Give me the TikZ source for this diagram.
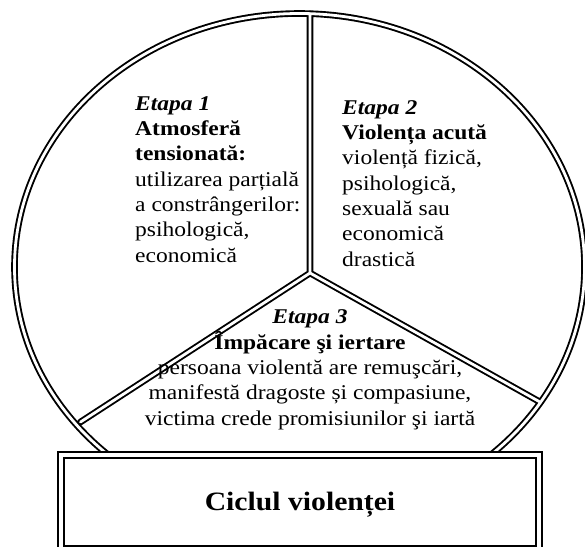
\documentclass[tikz,border=0pt]{standalone}
\usepackage{fontspec}
\setmainfont{Liberation Serif}[FakeStretch=1.12]

\begin{document}
\begin{tikzpicture}[
    x=1pt, y=-1pt,
    ring/.style={double, draw=black, line width=1.9pt, double distance=2.8pt,
        line cap=round},
    frame/.style={double, draw=black, fill=white, line width=2pt,
        double distance=3.6pt, minimum width=478pt, minimum height=94pt,
        inner sep=0pt},
    stage/.style={inner sep=0pt, align=left,
        font=\fontsize{21}{25.3}\selectfont},
    title/.style={inner sep=0pt, font=\fontsize{26.5}{30}\selectfont\bfseries}
]
    \useasboundingbox (0,0) rectangle (585,546);
    \coordinate (c) at (299.5,267);
    \coordinate (hub) at (310,273);
    \coordinate (top) at (310,13.5);
    \coordinate (lend) at (80.5,422);
    \coordinate (rend) at (540,402);
    \draw[ring] (c) ellipse [x radius=285, y radius=253.5]
        (top) -- (hub) (hub) -- (lend) (hub) -- (rend);
    \node[frame] (box) at (300,502) {};
    \node[title, anchor=base] (cycle) at (300,510) {Ciclul violenței};
    \node[stage, anchor=base west] (s1) at (135,262)
        {\textbf{\textit{Etapa 1}}\\\textbf{Atmosferă}\\\textbf{tensionată:}\\
         utilizarea parțială\\a constrângerilor:\\psihologică,\\economică};
    \node[stage, anchor=base west] (s2) at (342,266)
        {\textbf{\textit{Etapa 2}}\\\textbf{Violența acută}\\violență fizică,\\
         psihologică,\\sexuală sau\\economică\\drastică};
    \node[stage, align=center, anchor=base] (s3) at (310,425)
        {\textbf{\textit{Etapa 3}}\\\textbf{Împăcare şi iertare}\\
         persoana violentă are remuşcări,\\manifestă dragoste și compasiune,\\
         victima crede promisiunilor şi iartă};
\end{tikzpicture}
\end{document}
